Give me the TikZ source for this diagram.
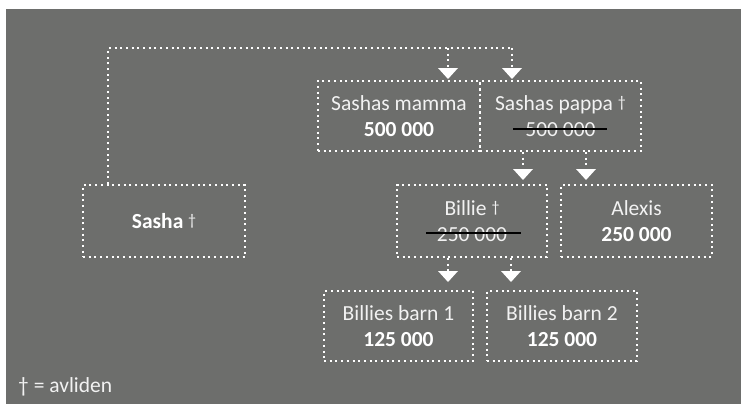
\documentclass[tikz,border=0pt]{standalone}
\usepackage{fontspec}
\setmainfont{Carlito}
\usetikzlibrary{arrows.meta}
\definecolor{slate}{HTML}{6D6E6C}
\definecolor{paleword}{HTML}{F2F2F2}
\newcommand{\dead}{\raisebox{2.5pt}{\fontsize{16}{16}\selectfont †}}
\tikzstyle{box} = [draw=white, line width=2pt, dash pattern=on 2pt off 3.7pt, text=paleword, align=center, inner sep=0pt, font=\fontsize{21.5}{26}\selectfont]
\tikzstyle{link} = [draw=white, line width=2pt, dash pattern=on 2pt off 3.7pt]
\tikzstyle{down} = [link, -{Triangle[width=20pt,length=11pt,fill=white,line width=0pt]}]
\tikzstyle{struck} = [draw=black, line width=1.3pt]

\begin{document}
\begin{tikzpicture}[x=1pt,y=-1pt]
\useasboundingbox (0,0) rectangle (741,404);
\fill[slate] (6,9) rectangle (741,404);

% boxes
\node[box, minimum width=162pt, minimum height=70pt] (mamma) at (399,116)
    {Sashas mamma\\\textcolor{white}{\textbf{500 000}}};
\node[box, minimum width=161pt, minimum height=70pt] (pappa) at (560.5,116)
    {Sashas pappa \dead\\500 000};
\node[box, minimum width=162pt, minimum height=72pt] (sasha) at (164,221)
    {\textcolor{white}{\textbf{Sasha}} \dead};
\node[box, minimum width=150pt, minimum height=72pt] (billie) at (472,221)
    {Billie \dead\\250 000};
\node[box, minimum width=151pt, minimum height=72pt] (alexis) at (636.5,221)
    {Alexis\\\textcolor{white}{\textbf{250 000}}};
\node[box, minimum width=149pt, minimum height=70pt] (barn1) at (398.5,326)
    {Billies barn 1\\\textcolor{white}{\textbf{125 000}}};
\node[box, minimum width=150pt, minimum height=70pt] (barn2) at (562,326)
    {Billies barn 2\\\textcolor{white}{\textbf{125 000}}};

% struck out shares
\draw[struck] ([xshift=-47.5,yshift=-13]pappa.center) -- ([xshift=46.5,yshift=-13]pappa.center);
\draw[struck] ([xshift=-46,yshift=-12]billie.center) -- ([xshift=49,yshift=-12]billie.center);

% inheritance lines
\coordinate (corner) at (108,48);
\coordinate (split) at (448,48);
\coordinate (end) at (512,48);
\draw[link] (sasha.north -| corner) -- (corner) -- (end);
\draw[down, shorten >=1pt] (split) -- (split |- mamma.north);
\draw[down, shorten >=1pt] (end) -- (end |- pappa.north);

\draw[down, shorten >=4pt] ([xshift=-37.5]pappa.south) -- ([xshift=51]billie.north);
\draw[down, shorten >=4pt] ([xshift=25.5]pappa.south) -- ([xshift=-50.5]alexis.north);

\draw[down, shorten >=8pt] ([xshift=-24]billie.south) -- ([xshift=49.5]barn1.north);
\draw[down, shorten >=8pt] ([xshift=39]billie.south) -- ([xshift=-51]barn2.north);

% legend
\node[anchor=base west, text=paleword, inner sep=0pt, font=\fontsize{21.5}{26}\selectfont] (legend) at (18,392) {† = avliden};
\end{tikzpicture}
\end{document}
